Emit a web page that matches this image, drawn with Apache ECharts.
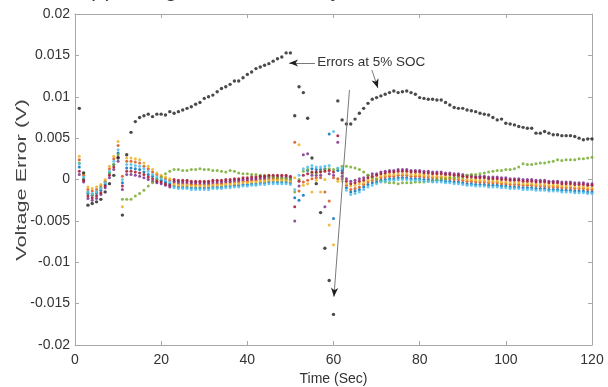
<!DOCTYPE html>
<html><head><meta charset="utf-8">
<script src="https://cdn.jsdelivr.net/npm/echarts@6/dist/echarts.min.js"></script>
<style>html,body{margin:0;padding:0;background:#fff}#c{width:608px;height:387px}</style>
</head><body><div id="c"></div>
<script>
// sample times (s)
const timeSec = [1,2,3,4,5,6,7,8,9,10,11,12,13,14,15,16,17,18,19,20,21,22,23,24,25,26,27,28,29,30,
31,32,33,34,35,36,37,38,39,40,41,42,43,44,45,46,47,48,49,50,51,52,53,54,55,56,57,58,59,60,
61,62,63,64,65,66,67,68,69,70,71,72,73,74,75,76,77,78,79,80,81,82,83,84,85,86,87,88,89,90,
91,92,93,94,95,96,97,98,99,100,101,102,103,104,105,106,107,108,109,110,111,112,113,114,115,116,117,118,119,120];

const xTicks = [0,20,40,60,80,100,120];
const yTicks = [-0.02,-0.015,-0.01,-0.005,0,0.005,0.01,0.015,0.02];

const blueErr = [0.0015,0.0001,-0.0017,-0.0019,-0.0017,-0.0013,-0.0006,0.0008,0.0018,0.0032,
-0.0004,0.0014,0.0014,0.0013,0.0012,0.0009,0.0006,0.0004,0.0001,-0.0001,
-0.0003,-0.0005,-0.0008,-0.0009,-0.0009,-0.0009,-0.001,-0.001,-0.001,-0.001,
-0.001,-0.0009,-0.0009,-0.0009,-0.0008,-0.0008,-0.0007,-0.0007,-0.0006,-0.0006,
-0.0005,-0.0005,-0.0004,-0.0004,-0.0003,-0.0003,-0.0003,-0.0003,-0.0003,-0.0004,
-0.0022,-0.0025,-0.0019,0.0011,0.0013,0.0012,0.0012,0.0013,0.0055,-0.0047,
0.0011,0.0011,-0.001,-0.0015,-0.0014,-0.0012,-0.0009,-0.0006,-0.0004,-0.0003,
-0.0001,0,0.0001,0.0001,0.0002,0.0002,0.0002,0.0001,0.0001,0.0001,
0,0,-0.0001,-0.0001,-0.0001,-0.0002,-0.0002,-0.0003,-0.0003,-0.0004,
-0.0005,-0.0005,-0.0006,-0.0006,-0.0006,-0.0007,-0.0007,-0.0007,-0.0008,-0.0008,
-0.0009,-0.0009,-0.0009,-0.001,-0.001,-0.001,-0.0011,-0.0011,-0.0011,-0.0012,
-0.0012,-0.0012,-0.0013,-0.0013,-0.0013,-0.0014,-0.0014,-0.0014,-0.0015,-0.0015];

const orangeErr = [0.0024,0.0005,-0.0012,-0.0014,-0.0012,-0.0008,-0.0002,0.0013,0.0025,0.0041,
0.0004,0.0022,0.0022,0.0021,0.002,0.0016,0.0013,0.0009,0.0006,0.0003,
0.0001,-0.0001,-0.0004,-0.0005,-0.0005,-0.0005,-0.0006,-0.0006,-0.0006,-0.0006,
-0.0006,-0.0005,-0.0005,-0.0005,-0.0004,-0.0004,-0.0003,-0.0003,-0.0002,-0.0002,
-0.0001,-0.0001,0,0,0.0001,0.0001,0.0001,0.0001,0.0001,0,
0.0045,-0.0014,-0.0003,-0.0001,0.0001,0.0002,0.0002,-0.0015,-0.0026,0.0002,
0.0001,0.0001,-0.0007,-0.0012,-0.0011,-0.0009,-0.0006,-0.0003,-0.0001,0,
0.0002,0.0003,0.0004,0.0004,0.0005,0.0005,0.0005,0.0004,0.0004,0.0004,
0.0003,0.0003,0.0002,0.0002,0.0002,0.0001,0.0001,0,0,-0.0001,
-0.0002,-0.0002,-0.0003,-0.0003,-0.0003,-0.0004,-0.0004,-0.0004,-0.0005,-0.0005,
-0.0006,-0.0006,-0.0006,-0.0007,-0.0007,-0.0007,-0.0008,-0.0008,-0.0008,-0.0009,
-0.0009,-0.0009,-0.001,-0.001,-0.001,-0.0011,-0.0011,-0.0011,-0.0012,-0.0012];

const yellowErr = [0.0028,0.0007,-0.0009,-0.0011,-0.0009,-0.0006,0,0.0016,0.0028,0.0046,
-0.0033,0.0026,0.0026,0.0025,0.0024,0.002,0.0016,0.0012,0.0008,0.0005,
0.0003,0.0001,-0.0006,-0.0007,-0.0007,-0.0007,-0.0008,-0.0008,-0.0008,-0.0008,
-0.0008,-0.0007,-0.0007,-0.0007,-0.0006,-0.0006,-0.0005,-0.0005,-0.0004,-0.0004,
-0.0003,-0.0003,-0.0002,-0.0002,-0.0001,-0.0001,-0.0001,-0.0001,-0.0001,-0.0002,
0.0002,0.0042,-0.0007,-0.0005,-0.0015,-0.0001,-0.0015,0,-0.0055,-0.0079,
-0.0002,-0.0002,-0.0005,-0.0008,-0.0007,-0.0005,-0.0004,-0.0001,0.0001,0.0002,
0.0004,0.0005,0.0006,0.0006,0.0007,0.0007,0.0007,0.0006,0.0006,0.0006,
0.0005,0.0005,0.0004,0.0004,0.0004,0.0003,0.0003,0.0002,0.0002,0.0001,
0,0,-0.0001,-0.0001,-0.0001,-0.0002,-0.0002,-0.0002,-0.0003,-0.0003,
-0.0004,-0.0004,-0.0004,-0.0005,-0.0005,-0.0005,-0.0006,-0.0006,-0.0006,-0.0007,
-0.0007,-0.0007,-0.0008,-0.0008,-0.0008,-0.0009,-0.0009,-0.0009,-0.001,-0.001];

const purpleErr = [0.0006,-0.0003,-0.0023,-0.0025,-0.0023,-0.0018,-0.001,0.0002,0.0012,0.0022,
-0.0012,0.0006,0.0006,0.0005,0.0004,0.0002,0,-0.0002,-0.0004,-0.0005,
-0.0007,-0.0009,-0.0002,-0.0003,-0.0003,-0.0003,-0.0004,-0.0004,-0.0004,-0.0004,
-0.0004,-0.0003,-0.0003,-0.0003,-0.0002,-0.0002,-0.0001,-0.0001,0,0,
0.0001,0.0001,0.0002,0.0002,0.0003,0.0003,0.0003,0.0003,0.0003,0.0002,
-0.005,-0.0008,0.003,0.0031,0.0005,0.0005,0.0005,-0.0033,0.0007,0.0005,
0.0045,0.0004,0.0001,-0.0002,-0.0001,0.0001,0.0002,0.0005,0.0007,0.0007,
0.0009,0.001,0.0011,0.0011,0.0012,0.0012,0.0012,0.0011,0.0011,0.0011,
0.001,0.001,0.0009,0.0009,0.0009,0.0008,0.0008,0.0007,0.0007,0.0006,
0.0005,0.0005,0.0004,0.0004,0.0004,0.0003,0.0003,0.0003,0.0002,0.0002,
0.0001,0.0001,0.0001,0,0,0,-0.0001,-0.0001,-0.0001,-0.0002,
-0.0002,-0.0002,-0.0003,-0.0003,-0.0003,-0.0004,-0.0004,-0.0004,-0.0005,-0.0005];

const greenErr = [0.002,0,-0.0015,-0.0018,-0.0015,-0.001,-0.0004,0.0008,0.0018,0.003,
-0.0024,-0.0024,-0.0024,-0.002,-0.0017,-0.0013,-0.0008,-0.0004,0,0.0003,
0.0007,0.001,0.0012,0.0012,0.0011,0.0011,0.0012,0.0012,0.0013,0.0012,
0.0012,0.0011,0.0011,0.001,0.0009,0.0011,0.001,0.0008,0.0007,0.0007,
0.0006,0.0006,0.0005,0.0005,0.0004,0.0003,0.0002,0.0002,0.0001,0,
-0.0015,0,0.001,0.0012,0.0008,0.0008,0.001,0.0012,0.0013,0.0012,
0.0013,0.0016,0.0016,0.0015,0.0014,0.0012,0.0009,0.0005,0.0002,0,
-0.0002,-0.0003,-0.0004,-0.0004,-0.0005,-0.0004,-0.0004,-0.0004,-0.0003,-0.0003,
-0.0003,-0.0002,-0.0002,0,0.0001,0.0001,0.0002,0.0002,0.0003,0.0003,
0.0005,0.0006,0.0006,0.0007,0.0008,0.0009,0.001,0.0011,0.0011,0.0012,
0.0012,0.0013,0.0015,0.0019,0.0018,0.0018,0.0019,0.002,0.002,0.0021,
0.0022,0.0024,0.0023,0.0024,0.0024,0.0024,0.0025,0.0025,0.0026,0.0027];

const cyanErr = [0.0019,0.0003,-0.0015,-0.0017,-0.0015,-0.0011,-0.0004,0.001,0.0022,0.0036,
0,0.0018,0.0018,0.0017,0.0016,0.0013,0.001,0.0006,0.0003,0.0001,
-0.0001,-0.0003,-0.001,-0.0011,-0.0011,-0.0011,-0.0012,-0.0012,-0.0012,-0.0012,
-0.0012,-0.0011,-0.0011,-0.0011,-0.001,-0.001,-0.0009,-0.0009,-0.0008,-0.0008,
-0.0007,-0.0007,-0.0006,-0.0006,-0.0005,-0.0005,-0.0005,-0.0005,-0.0005,-0.0006,
-0.0012,0.0005,0.0013,0.0015,0.0017,0.0015,0.0015,0.0016,0.0017,0.0058,
0.0014,0.0014,-0.0013,-0.0018,-0.0017,-0.0015,-0.0012,-0.0009,-0.0007,-0.0005,
-0.0003,-0.0002,-0.0001,-0.0001,0,0,0,-0.0001,-0.0001,-0.0001,
-0.0002,-0.0002,-0.0003,-0.0003,-0.0003,-0.0004,-0.0004,-0.0005,-0.0005,-0.0006,
-0.0007,-0.0007,-0.0008,-0.0008,-0.0008,-0.0009,-0.0009,-0.0009,-0.001,-0.001,
-0.0011,-0.0011,-0.0011,-0.0012,-0.0012,-0.0012,-0.0013,-0.0013,-0.0013,-0.0014,
-0.0014,-0.0014,-0.0015,-0.0015,-0.0015,-0.0016,-0.0016,-0.0016,-0.0017,-0.0017];

const redErr = [0.001,-0.0001,-0.002,-0.0022,-0.002,-0.0016,-0.0008,0.0005,0.0015,0.0027,
-0.0008,0.001,0.001,0.0009,0.0008,0.0006,0.0003,0.0001,-0.0002,-0.0003,
-0.0005,-0.0007,0,-0.0001,-0.0001,-0.0001,-0.0002,-0.0002,-0.0002,-0.0002,
-0.0002,-0.0001,-0.0001,-0.0001,0,0,0.0001,0.0001,0.0002,0.0002,
0.0003,0.0003,0.0004,0.0004,0.0005,0.0005,0.0005,0.0005,0.0005,0.0004,
-0.0033,-0.0002,0.0005,0.0007,0.0009,0.0009,0.0009,0.001,0.0011,0.0009,
0.0053,0.0008,-0.0002,-0.0005,-0.0004,-0.0002,-0.0001,0.0002,0.0004,0.0005,
0.0007,0.0008,0.0009,0.0009,0.001,0.001,0.001,0.0009,0.0009,0.0009,
0.0008,0.0008,0.0007,0.0007,0.0007,0.0006,0.0006,0.0005,0.0005,0.0004,
0.0003,0.0003,0.0002,0.0002,0.0002,0.0001,0.0001,0.0001,0,0,
-0.0001,-0.0001,-0.0001,-0.0002,-0.0002,-0.0002,-0.0003,-0.0003,-0.0003,-0.0004,
-0.0004,-0.0004,-0.0005,-0.0005,-0.0005,-0.0006,-0.0006,-0.0006,-0.0007,-0.0007];

// errors at 5% SOC
const blackErr = [0.0086,0.0008,-0.0031,-0.0029,-0.0027,-0.0024,-0.0015,-0.0005,0.0005,0.0026,
-0.0043,0.003,0.0057,0.007,0.0075,0.0077,0.0079,0.0076,0.0079,0.0079,
0.0078,0.0082,0.008,0.0082,0.0084,0.0086,0.0088,0.0091,0.0093,0.0098,
0.01,0.0102,0.0106,0.011,0.0112,0.0115,0.0119,0.0119,0.0123,0.0127,
0.013,0.0134,0.0136,0.0138,0.014,0.0143,0.0146,0.0148,0.0153,0.0153,
0.0077,0.0112,0.0105,0.0074,0.0026,-0.0005,-0.004,-0.0083,-0.0122,-0.0163,
0.0095,0.0072,0.0067,0.0067,0.0073,0.008,0.0086,0.0092,0.0097,0.0099,
0.0101,0.0103,0.0105,0.0107,0.0105,0.0106,0.0107,0.0105,0.0103,0.0099,
0.0098,0.0097,0.0097,0.0096,0.0096,0.0093,0.009,0.0087,0.0086,0.0086,
0.0084,0.0083,0.0082,0.008,0.0079,0.0078,0.0075,0.0072,0.0073,0.0068,
0.0067,0.0066,0.0064,0.0063,0.0062,0.0062,0.0056,0.0056,0.0058,0.0056,
0.0054,0.0054,0.0053,0.0053,0.0053,0.0052,0.005,0.0048,0.0049,0.0049];

// annotation anchors in data space [time, error]
const noteLabel = 'Errors at 5% SOC';
const noteAt = [56.2, 0.0142];
const arrowFrom = [[55.7, 0.01408], [68.9, 0.01323], [63.7, 0.01082]];
const arrowTo   = [[49.7, 0.01408], [70.3, 0.01106], [60.1, -0.01416]];

const seriesDefs = [
  {name:'s1', data: blueErr,   color:'#0072BD'},
  {name:'s2', data: orangeErr, color:'#D95319'},
  {name:'s3', data: yellowErr, color:'#EDB120'},
  {name:'s4', data: purpleErr, color:'#7E2F8E'},
  {name:'s5', data: greenErr,  color:'#77AC30'},
  {name:'s6', data: cyanErr,   color:'#4DBEEE'},
  {name:'s7', data: redErr,    color:'#A2142F'},
  {name:'5% SOC', data: blackErr, color:'#2a2a2a'}
];

const FONT = 'Liberation Sans, Arial, Helvetica, sans-serif';
const AX = '#a8a8a8';
const chart = echarts.init(document.getElementById('c'), null, {renderer:'canvas'});

function fmt(v){ return String(parseFloat(Number(v).toFixed(3))); }

const baseAxis = {
  type:'value',
  axisLine:{show:true, onZero:false, lineStyle:{color:AX, width:1}},
  axisTick:{show:true, inside:true, length:4, lineStyle:{color:AX}},
  splitLine:{show:false}
};

const series = seriesDefs.map((s, k) => ({
  type:'scatter', name:s.name, xAxisIndex:0, yAxisIndex:0,
  data: s.data.map((v, i) => [timeSec[i], v]),
  symbol:'circle', symbolSize: k === 7 ? 3.4 : 3,
  itemStyle:{color:s.color, opacity:0.85},
  silent:true, animation:false
}));
series[7].markLine = {
  silent:true, animation:false,
  symbol:'none',
  label:{show:false},
  lineStyle:{color:'#7a7a7a', width:1, type:'solid'},
  emphasis:{disabled:true},
  data: arrowFrom.map((f, i) => [{coord:f}, {coord:arrowTo[i]}])
};

chart.setOption({
  animation:false,
  backgroundColor:'#ffffff',
  grid:{left:75, right:16, top:14, bottom:42, outerBoundsMode:'none'},
  xAxis:[
    Object.assign({}, baseAxis, {
      position:'bottom', min:xTicks[0], max:xTicks[xTicks.length-1], interval:xTicks[1]-xTicks[0],
      axisLabel:{color:'#333', fontSize:14, margin:8, fontFamily:FONT},
      name:'Time (Sec)', nameLocation:'middle', nameGap:26,
      nameTextStyle:{color:'#333', fontSize:14, fontFamily:FONT}
    }),
    Object.assign({}, baseAxis, {
      position:'top', min:xTicks[0], max:xTicks[xTicks.length-1], interval:xTicks[1]-xTicks[0],
      axisLabel:{show:false}
    })
  ],
  yAxis:[
    Object.assign({}, baseAxis, {
      position:'left', min:yTicks[0], max:yTicks[yTicks.length-1], interval:0.005,
      axisLabel:{color:'#333', fontSize:14, margin:5, fontFamily:FONT, formatter:fmt}
    }),
    Object.assign({}, baseAxis, {
      position:'right', min:yTicks[0], max:yTicks[yTicks.length-1], interval:0.005,
      axisLabel:{show:false}
    })
  ],
  series: series
});

// arrowheads at the arrow tips (positions from data anchors through the axes)
function head(fromD, toD){
  const a = chart.convertToPixel({xAxisIndex:0, yAxisIndex:0}, fromD);
  const b = chart.convertToPixel({xAxisIndex:0, yAxisIndex:0}, toD);
  const dx = b[0]-a[0], dy = b[1]-a[1], L = Math.hypot(dx, dy);
  const ux = dx/L, uy = dy/L, nx = -uy, ny = ux;
  const len = 9, hw = 3.6, notch = 2.5;
  return {type:'polygon', silent:true, z:100,
    shape:{points:[[b[0],b[1]],
      [b[0]-ux*len+nx*hw, b[1]-uy*len+ny*hw],
      [b[0]-ux*(len-notch), b[1]-uy*(len-notch)],
      [b[0]-ux*len-nx*hw, b[1]-uy*len-ny*hw]]},
    style:{fill:'#1e1e1e'}};
}

const p = chart.convertToPixel({xAxisIndex:0, yAxisIndex:0}, noteAt);
const graphics = [
  {type:'text', x:p[0], y:p[1], silent:true,
   style:{text:noteLabel, font:'13.5px ' + FONT, fill:'#333', align:'left', verticalAlign:'middle'}},
  {type:'text', x:22, y:180, rotation:Math.PI/2, scaleX:1.55, silent:true,
   style:{text:'Voltage Error (V)', font:'14px ' + FONT, fill:'#444', align:'center', verticalAlign:'middle'}},
  {type:'text', x:88, y:-9, silent:true,
   style:{text:'(c) Voltage Errors for Every SOC', font:'21px ' + FONT, fill:'#333', align:'left', verticalAlign:'middle'}}
];
arrowFrom.forEach((f, i) => graphics.push(head(f, arrowTo[i])));
chart.setOption({graphic: graphics});
</script>
</body></html>
